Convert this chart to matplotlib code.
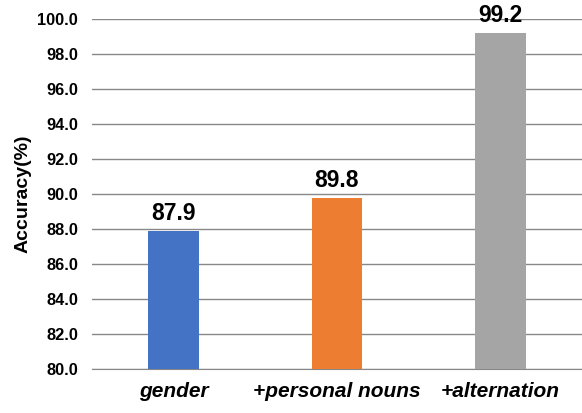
import matplotlib
matplotlib.use("Agg")
import matplotlib.pyplot as plt

plt.rcParams['font.family'] = ['Liberation Sans', 'DejaVu Sans']

categories = ['gender', '+personal nouns', '+alternation']
accuracy = [87.9, 89.8, 99.2]
colors = ['#4472C4', '#ED7D31', '#A5A5A5']
yticks = [80, 82, 84, 86, 88, 90, 92, 94, 96, 98, 100]

fig = plt.figure(figsize=(5.82, 4.13), dpi=100)
ax = fig.add_axes([0.158, 0.1065, 0.842, 0.8475])

x = range(len(categories))
bars = ax.bar(x, accuracy, width=0.31, color=colors, zorder=3)

for b, v in zip(bars, accuracy):
    ax.annotate(f'{v:.1f}', (b.get_x() + b.get_width() / 2, v),
                xytext=(0, 4), textcoords='offset points',
                ha='center', va='bottom', fontsize=16.5, fontweight='bold',
                annotation_clip=False)

ax.set_xlim(-0.5, 2.5)
ax.set_ylim(80, 100)
ax.set_yticks(yticks)
ax.set_yticklabels([f'{t:.1f}' for t in yticks], fontsize=11.8, fontweight='bold')
ax.set_xticks(list(x))
ax.set_xticklabels(categories, fontsize=15, fontweight='bold', style='italic')
ax.tick_params(axis='both', length=0)
ax.tick_params(axis='y', pad=10)
ax.tick_params(axis='x', pad=9)
ax.set_ylabel('Accuracy(%)', fontsize=14, fontweight='bold', labelpad=4)

ax.grid(axis='y', color='#888888', linewidth=1, zorder=0)
for s in ['top', 'right', 'left']:
    ax.spines[s].set_visible(False)
ax.spines['bottom'].set_color('#888888')

fig.savefig('out.png', dpi=100)
